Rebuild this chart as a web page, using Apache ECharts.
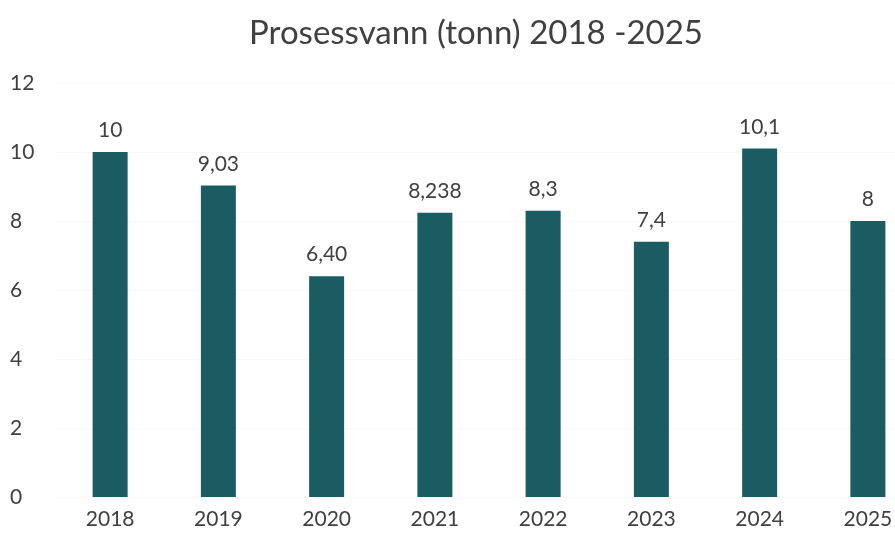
<!DOCTYPE html>
<html>
<head>
<meta charset="utf-8">
<script src="https://cdn.jsdelivr.net/npm/echarts@6/dist/echarts.min.js"></script>
<style>
  html, body { margin: 0; padding: 0; background: #fff; }
  #J_chart { width: 895px; height: 540px; }
</style>
</head>
<body>
<div id="J_chart"></div>
<script>
var years = ['2018', '2019', '2020', '2021', '2022', '2023', '2024', '2025'];
var tonn = [10, 9.03, 6.40, 8.238, 8.3, 7.4, 10.1, 8];
// labels as printed in the original (Norwegian decimal comma)
var valueLabels = ['10', '9,03', '6,40', '8,238', '8,3', '7,4', '10,1', '8'];

(function(){
    var myChart = echarts.init(document.getElementById('J_chart'));

    var option = {
        animation: false,
        title: {
            left: 471,
            top: 12,
            textAlign: 'center',
            text: 'Prosessvann (tonn) 2018 -2025',
            textStyle: {
                color: '#404040',
                fontWeight: 'normal',
                fontFamily: 'Lato',
                fontSize: 33
            }
        },
        grid: {
            left: 56,
            right: -27,
            top: 83,
            bottom: 43,
            outerBoundsMode: 'none'
        },
        xAxis: {
            type: 'category',
            data: years,
            axisLine: { show: false },
            axisTick: { show: false },
            axisLabel: {
                color: '#404040',
                fontFamily: 'Lato',
                fontSize: 21,
                margin: 12
            }
        },
        yAxis: {
            type: 'value',
            min: 0,
            max: 12,
            interval: 2,
            axisLine: { show: false },
            axisTick: { show: false },
            splitLine: {
                lineStyle: { color: '#f8f8f8' }
            },
            axisLabel: {
                color: '#404040',
                fontFamily: 'Lato',
                fontSize: 21,
                align: 'left',
                margin: 46
            }
        },
        series: [
            {
                name: 'Prosessvann',
                type: 'bar',
                barWidth: 35,
                itemStyle: { color: '#1b5c63' },
                label: {
                    show: true,
                    position: 'top',
                    distance: 11,
                    color: '#404040',
                    fontFamily: 'Lato',
                    fontSize: 21,
                    formatter: function (p) { return valueLabels[p.dataIndex]; }
                },
                data: tonn
            }
        ]
    };

    myChart.setOption(option);
})();
</script>
</body>
</html>
